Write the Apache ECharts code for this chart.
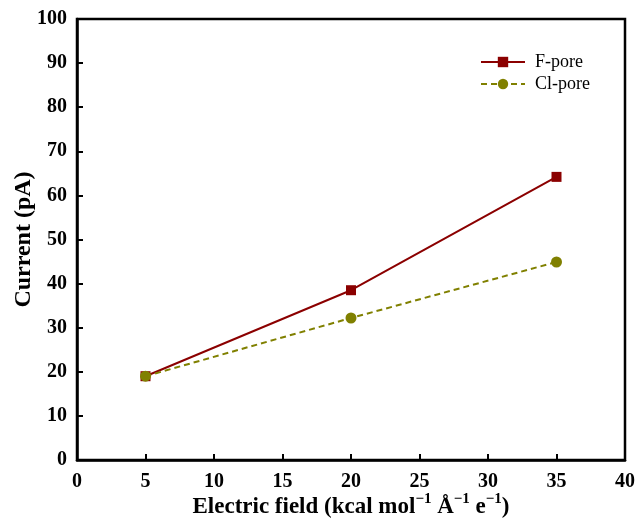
<!DOCTYPE html>
<html>
<head>
<meta charset="utf-8">
<script src="https://cdn.jsdelivr.net/npm/echarts@6/dist/echarts.min.js"></script>
<style>
  html, body { margin: 0; padding: 0; background: #fff; overflow: hidden; }
  #chart { width: 636px; height: 519px; }
</style>
</head>
<body>
<div id="chart"></div>
<script>
// Electric field values (kcal mol^-1 Å^-1 e^-1)
const fieldValues = [5, 20, 35];
// Current through each pore (pA)
const fPoreCurrent = [19.0, 38.5, 64.2];
const clPoreCurrent = [19.0, 32.2, 44.9];
const seriesNames = ['F-pore', 'Cl-pore'];

const serif = '"Liberation Serif", "Times New Roman", serif';

const chart = echarts.init(document.getElementById('chart'));

const toPairs = (xs, ys) => xs.map((x, i) => [x, ys[i]]);

chart.setOption({
  backgroundColor: '#fff',
  animation: false,
  grid: {
    left: 77, right: 11, top: 19, bottom: 59,
    outerBoundsMode: 'none', containLabel: false,
    show: true, borderColor: '#000', borderWidth: 2.5
  },
  legend: {
    left: 475, top: 48, orient: 'vertical', itemGap: 4,
    itemWidth: 44, itemHeight: 13,
    textStyle: { fontFamily: serif, fontSize: 18, color: '#000', padding: [0, 0, 0, 5] },
    data: seriesNames
  },
  xAxis: {
    type: 'value', min: 0, max: 40, interval: 5,
    axisLine: { show: true, lineStyle: { color: '#000', width: 2.5 } },
    axisTick: { show: true, inside: true, length: 6, lineStyle: { color: '#000', width: 2 } },
    splitLine: { show: false },
    axisLabel: { fontFamily: serif, fontWeight: 'bold', fontSize: 20, color: '#000', margin: 12 },
    name: '{b|Electric field (kcal mol}{s|−1}{b| Å}{s|−1}{b| e}{s|−1}{b|)}',
    nameLocation: 'middle', nameGap: 32, nameMoveOverlap: false,
    nameTextStyle: {
      rich: {
        b: { fontFamily: serif, fontWeight: 'bold', fontSize: 23, color: '#000', lineHeight: 27, verticalAlign: 'bottom' },
        s: { fontFamily: serif, fontWeight: 'bold', fontSize: 15, color: '#000', lineHeight: 27, verticalAlign: 'top' }
      }
    }
  },
  yAxis: {
    type: 'value', min: 0, max: 100, interval: 10,
    axisLine: { show: true, lineStyle: { color: '#000', width: 2.5 } },
    axisTick: { show: true, inside: true, length: 6, lineStyle: { color: '#000', width: 2 } },
    splitLine: { show: false },
    axisLabel: { fontFamily: serif, fontWeight: 'bold', fontSize: 20, color: '#000', margin: 10 },
    name: 'Current (pA)',
    nameLocation: 'middle', nameGap: 41, nameMoveOverlap: false,
    nameTextStyle: { fontFamily: serif, fontWeight: 'bold', fontSize: 24, color: '#000' }
  },
  series: [
    {
      name: seriesNames[0], type: 'line',
      data: toPairs(fieldValues, fPoreCurrent),
      symbol: 'rect', symbolSize: 10,
      lineStyle: { color: '#8b0000', width: 2, type: 'solid' },
      itemStyle: { color: '#8b0000' },
      z: 2
    },
    {
      name: seriesNames[1], type: 'line',
      data: toPairs(fieldValues, clPoreCurrent),
      symbol: 'circle', symbolSize: 11,
      lineStyle: { color: '#808000', width: 2, type: [6, 4] },
      itemStyle: { color: '#808000' },
      z: 3
    }
  ]
});
</script>
</body>
</html>
